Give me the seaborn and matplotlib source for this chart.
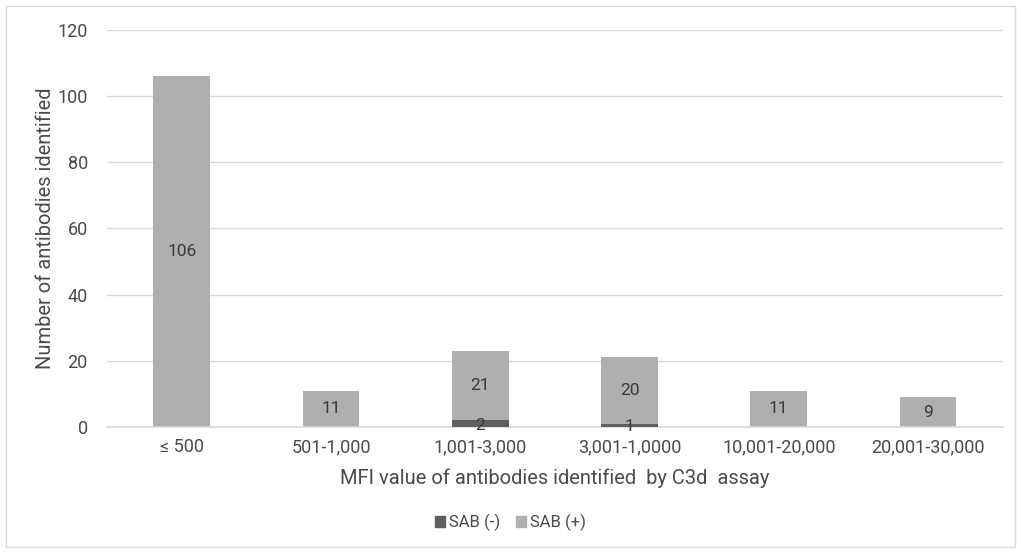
import matplotlib
matplotlib.use("Agg")
import matplotlib.pyplot as plt
import matplotlib.patches as mpatches
import seaborn as sns
import pandas as pd

categories = ["≤ 500", "501-1,000", "1,001-3,000", "3,001-1,0000", "10,001-20,000", "20,001-30,000"]
sab_neg = [0, 0, 2, 1, 0, 0]
sab_pos = [106, 11, 21, 20, 11, 9]
y_ticks = [0, 20, 40, 60, 80, 100, 120]

light = "#AFAFAF"
dark = "#5F5F5F"
text_color = "#4A4A4A"

sns.set_theme(style="white")
plt.rcParams["font.family"] = ["Roboto", "DejaVu Sans"]

df = pd.DataFrame({
    "category": categories,
    "neg": sab_neg,
    "pos": sab_pos,
})
df["total"] = df["neg"] + df["pos"]

fig = plt.figure(figsize=(10.21, 5.53), dpi=100)
ax = fig.add_axes([0.105, 0.228, 0.877, 0.718])

# stacked bars: full height in light grey, negative part overlaid in dark grey
sns.barplot(data=df, x="category", y="total", color=light, width=0.38,
            saturation=1, ax=ax, zorder=2, linewidth=0)
sns.barplot(data=df, x="category", y="neg", color=dark, width=0.38,
            saturation=1, ax=ax, zorder=3, linewidth=0)

for i, (n, p) in enumerate(zip(sab_neg, sab_pos)):
    ax.text(i, n + p / 2, f"{p}", ha="center", va="center", fontsize=12.5,
            color="#3A3A3A", zorder=4)
    if n:
        ax.text(i, n / 2 - 0.5, f"{n}", ha="center", va="center", fontsize=12.5,
                color="#3A3A3A", zorder=4)

ax.set_ylim(0, 120)
ax.set_xlim(-0.5, len(categories) - 0.5)
ax.set_yticks(y_ticks)
ax.yaxis.grid(True, color="#D9D9D9", linewidth=1, zorder=0)
ax.set_axisbelow(True)
for s in ["top", "right", "left"]:
    ax.spines[s].set_visible(False)
ax.spines["bottom"].set_color("#D9D9D9")
ax.tick_params(axis="both", length=0, labelsize=13, colors=text_color)
ax.tick_params(axis="y", pad=14)
ax.tick_params(axis="x", pad=8)

ax.set_xlabel("MFI value of antibodies identified  by C3d  assay", fontsize=14.5,
              color=text_color, labelpad=9)
ax.set_ylabel("Number of antibodies identified", fontsize=14.5, color=text_color,
              labelpad=2)

handles = [mpatches.Patch(color=dark, label="SAB (-)"),
           mpatches.Patch(color=light, label="SAB (+)")]
fig.legend(handles=handles, loc="center", bbox_to_anchor=(0.5, 0.055), ncol=2,
           frameon=False, fontsize=12, handlelength=0.6, handleheight=0.6,
           handletextpad=0.2, columnspacing=1.0, labelcolor=text_color)

# thin frame around the whole chart
fig.patches.append(mpatches.Rectangle((0.006, 0.01), 0.988, 0.98, transform=fig.transFigure,
                                      fill=False, edgecolor="#D9D9D9", linewidth=1))

fig.savefig("out.png", dpi=100)
